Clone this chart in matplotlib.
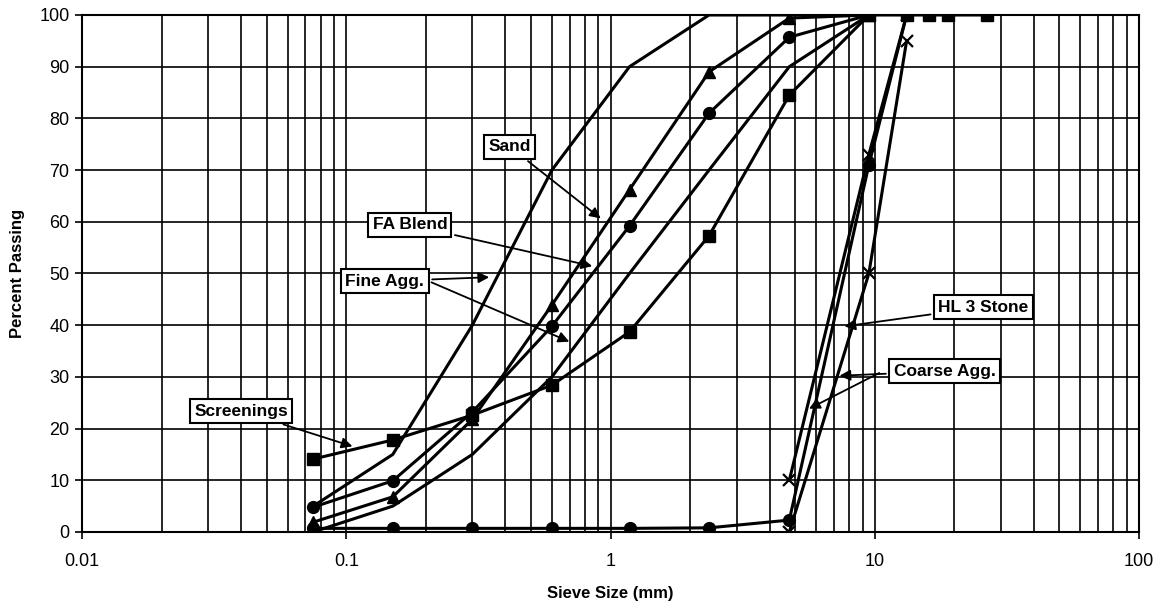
import matplotlib
matplotlib.use("Agg")
import matplotlib.pyplot as plt

plt.rcParams['font.family'] = ['Liberation Sans', 'DejaVu Sans']

# sieve openings (mm)
sieves = [0.075, 0.15, 0.3, 0.6, 1.18, 2.36, 4.75, 9.5, 13.2, 16, 19, 26.5]

# percent passing for each material
screenings = [14.1, 17.8, 22.6, 28.4, 38.7, 57.3, 84.5, 100, 100, 100, 100, 100]
fa_blend = [4.8, 9.9, 23.2, 39.8, 59.2, 81.0, 95.7, 100]
sand = [1.9, 6.8, 21.8, 43.9, 66.2, 89.0, 99.4, 100]
hl3_stone = [0.7, 0.7, 0.7, 0.7, 0.7, 0.8, 2.3, 71, 100]

# fine aggregate grading limits
fine_sieves = [0.075, 0.15, 0.3, 0.6, 1.18, 2.36, 4.75, 9.5]
fine_upper = [5, 15, 40, 70, 90, 100, 100, 100]
fine_lower = [0, 5, 15, 30, 50, 70, 90, 100]

# coarse aggregate grading limits
coarse_sieves = [4.75, 9.5, 13.2]
coarse_upper = [10, 73, 100]
coarse_lower = [0, 50, 95]

fig = plt.figure(figsize=(11.7, 6.07), dpi=100)
ax = fig.add_axes([0.0701, 0.1236, 0.9034, 0.8517])

lw = 2.2
ax.plot(fine_sieves, fine_upper, color='black', lw=lw)
ax.plot(fine_sieves, fine_lower, color='black', lw=lw)
ax.plot(coarse_sieves, coarse_upper, color='black', lw=lw, marker='x', ms=9, mew=1.6)
ax.plot(coarse_sieves, coarse_lower, color='black', lw=lw, marker='x', ms=9, mew=1.6)
ax.plot(sieves[:9], hl3_stone, color='black', lw=lw, marker='o', ms=8.5)
ax.plot(sieves[:8], sand, color='black', lw=lw, marker='^', ms=8.5)
ax.plot(sieves[:8], fa_blend, color='black', lw=lw, marker='o', ms=8.5)
ax.plot(sieves, screenings, color='black', lw=lw, marker='s', ms=8)

ax.set_xscale('log')
ax.set_xlim(0.01, 100)
ax.set_ylim(0, 100)
ax.set_yticks(range(0, 101, 10))
ax.set_xticks([0.01, 0.1, 1, 10, 100])
ax.set_xticklabels(['0.01', '0.1', '1', '10', '100'])
ax.tick_params(axis='both', which='major', labelsize=13, length=5, width=1.2, color='black')
ax.tick_params(axis='x', which='minor', length=0)
ax.tick_params(axis='x', pad=10)
ax.tick_params(axis='y', pad=4)

ax.grid(True, which='major', color='black', lw=1.2)
ax.grid(True, which='minor', axis='x', color='black', lw=1.2)
for sp in ax.spines.values():
    sp.set_linewidth(1.5)

ax.set_xlabel('Sieve Size (mm)', fontsize=12, fontweight='bold', labelpad=12)
ax.set_ylabel('Percent Passing', fontsize=12, fontweight='bold', labelpad=10)

box = dict(boxstyle='square,pad=0.25', fc='white', ec='black', lw=1.5)
arr = dict(arrowstyle='-|>', color='black', lw=1.3, mutation_scale=16)
kw = dict(fontsize=12.5, fontweight='bold', ha='center', va='center', bbox=box, arrowprops=arr)

ax.annotate('Sand', xy=(0.936, 60.3), xytext=(0.416, 74.5), **kw)
ax.annotate('FA Blend', xy=(0.873, 51.3), xytext=(0.174, 59.4), **kw)
ax.annotate('Fine Agg.', xy=(0.356, 49.3), xytext=(0.140, 48.5), **kw)
ax.annotate('', xy=(0.714, 36.6), xytext=(0.2055, 48.5), arrowprops=arr)
ax.annotate('Screenings', xy=(0.108, 16.4), xytext=(0.040, 23.4), **kw)
ax.annotate('HL 3 Stone', xy=(7.5, 39.7), xytext=(25.8, 43.5), **kw)
ax.annotate('Coarse Agg.', xy=(7.18, 30.2), xytext=(18.4, 31.1), **kw)
ax.annotate('', xy=(5.52, 23.6), xytext=(10.63, 31.0), arrowprops=arr)

fig.savefig('out.png', dpi=100)
